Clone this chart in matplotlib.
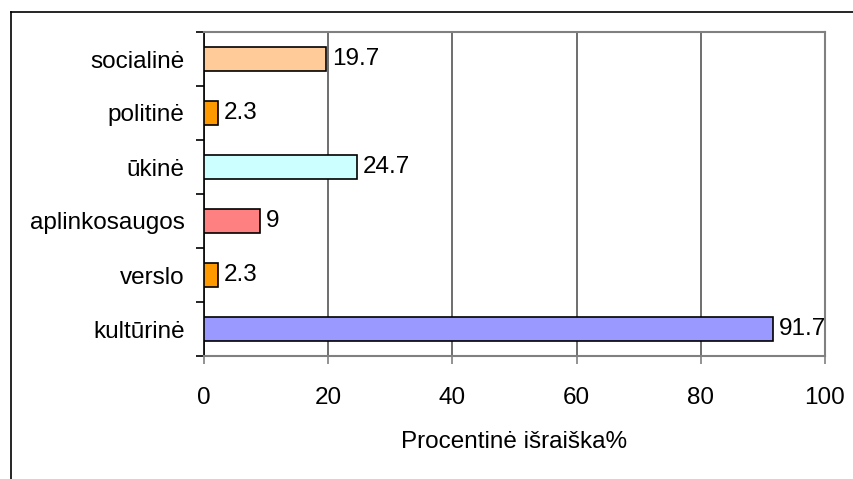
import matplotlib.pyplot as plt
from matplotlib.lines import Line2D
import numpy as np

plt.rcParams['font.family'] = ['Liberation Sans', 'DejaVu Sans']

categories = ['kultūrinė', 'verslo', 'aplinkosaugos', 'ūkinė', 'politinė', 'socialinė']
values = [91.7, 2.3, 9, 24.7, 2.3, 19.7]
value_labels = ['91.7', '2.3', '9', '24.7', '2.3', '19.7']
colors = ['#9999FF', '#FF9900', '#FF8080', '#CCFFFF', '#FF9900', '#FFCC99']
x_ticks = [0, 20, 40, 60, 80, 100]

fs = 17.5

fig = plt.figure(figsize=(8.54, 4.79), dpi=100)
ax = fig.add_axes([204 / 854, 1 - 356 / 479, (825 - 204) / 854, (356 - 32) / 479])

y = np.arange(len(categories))
ax.barh(y, values, height=0.45, color=colors, edgecolor='black', linewidth=1.2, zorder=3)

for yi, v, lab in zip(y, values, value_labels):
    ax.annotate(lab, (v, yi), xytext=(4, 0), textcoords='offset points',
                va='center', ha='left', fontsize=fs, zorder=4)

ax.set_xlim(0, 100)
ax.set_ylim(-0.5, len(categories) - 0.5)
ax.set_xticks(x_ticks)
ax.set_xticklabels([str(t) for t in x_ticks], fontsize=fs)
ax.tick_params(axis='x', direction='out', length=6, width=1.2, color='#808080', pad=16)

# category labels at centres, tick marks between categories
ax.set_yticks(y)
ax.set_yticklabels(categories, fontsize=fs)
ax.tick_params(axis='y', which='major', length=0, pad=14)
ax.set_yticks(np.arange(-0.5, len(categories), 1), minor=True)
ax.tick_params(axis='y', which='minor', direction='out', length=6, width=1.2, color='black')

ax.grid(axis='x', color='#555555', linewidth=1.2, zorder=0)
for s in ['top', 'right', 'bottom']:
    ax.spines[s].set_color('#808080')
    ax.spines[s].set_linewidth(1.5)
ax.spines['left'].set_color('black')
ax.spines['left'].set_linewidth(1.2)

ax.set_xlabel('Procentinė išraiška%', fontsize=fs, labelpad=16)

# outer chart border (top and left edges visible)
fig.add_artist(Line2D([11 / 854, 11 / 854], [0, 1 - 12 / 479], color='black', linewidth=1.2))
fig.add_artist(Line2D([11 / 854, 1], [1 - 12 / 479, 1 - 12 / 479], color='black', linewidth=1.2))

fig.savefig('out.png', dpi=100)
